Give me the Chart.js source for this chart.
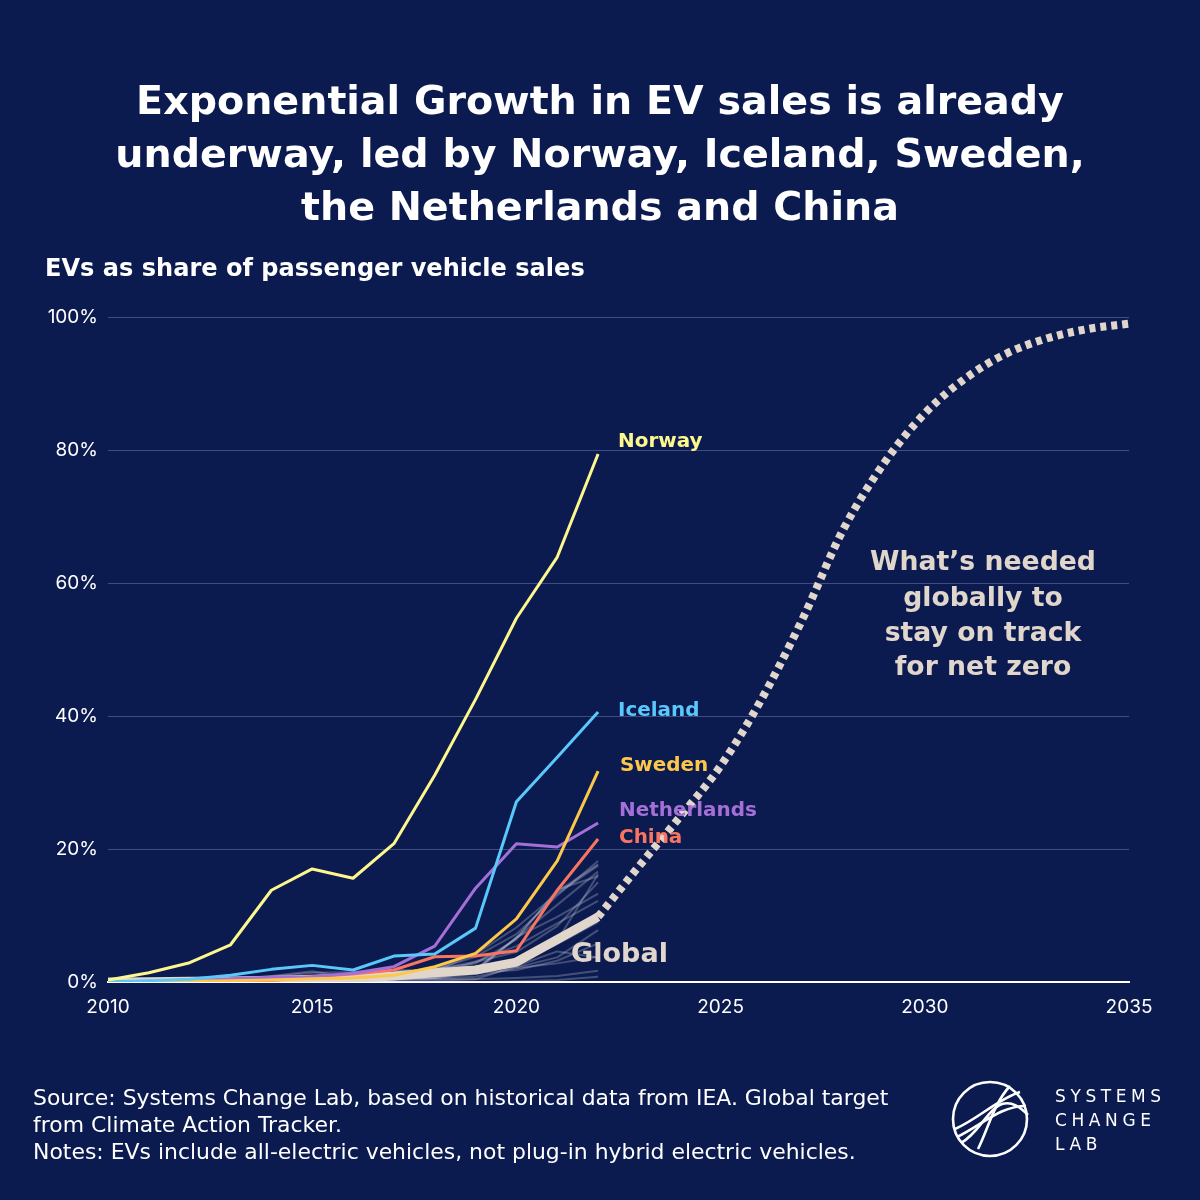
<!DOCTYPE html>
<html>
<head>
<meta charset="utf-8">
<script src="https://cdn.jsdelivr.net/npm/chart.js@4/dist/chart.umd.min.js"></script>
<style>
  html, body { margin:0; padding:0; background:#0c1b4f; }
  #wrap { position:relative; width:1200px; height:1200px; background:#0c1b4f; overflow:hidden; color:#fff; }
  canvas { position:absolute; left:0; top:0; }
  .t { position:absolute; white-space:nowrap; }
</style>
</head>
<body>
<div id="wrap">
  <canvas id="c" width="1200" height="1200"></canvas>
  <svg style="position:absolute; left:950px; top:1079px;" width="80" height="80" viewBox="0 0 80 80">
    <g fill="none" stroke="#fff" stroke-width="2.6">
      <circle cx="40" cy="40" r="37"/>
      <path d="M5 50 C 28 40, 48 20, 70 13"/>
      <path d="M7 58 C 32 46, 50 27, 76 27"/>
      <path d="M11 64 C 28 55, 38 30, 52 25 C 62 22, 70 28, 78 36"/>
      <path d="M28 70 C 38 50, 44 24, 60 7"/>
    </g>
  </svg>
</div>
<script>
// ---------- DATA ----------
const years = [2010,2011,2012,2013,2014,2015,2016,2017,2018,2019,2020,2021,2022];
const targetYears = [2022,2023,2024,2025,2026,2027,2028,2029,2030,2031,2032,2033,2034,2035];

const norway      = [0.3,1.4,2.9,5.6,13.8,17.0,15.6,20.8,31.1,42.5,54.7,63.9,79.4];
const iceland     = [0,0.2,0.4,1.0,1.9,2.5,1.8,3.9,4.2,8.1,27.1,33.8,40.6];
const sweden      = [0,0,0.1,0.2,0.3,0.5,0.6,1.0,2.3,4.3,9.5,18.2,31.7];
const netherlands = [0,0.1,0.2,0.5,0.7,0.8,1.3,2.3,5.4,14.1,20.8,20.3,23.9];
const china       = [0,0,0,0.1,0.2,0.8,1.2,1.8,3.8,3.9,4.7,13.8,21.5];
const global      = [0,0.05,0.1,0.15,0.25,0.4,0.55,0.9,1.4,1.8,3.0,6.4,9.8];
const target      = [9.8,17.4,24.8,32.5,42.5,54.5,68,78,85.5,90.8,94.5,96.8,98.2,99];

// other countries (grey background lines)
const germany     = [0,0,0.1,0.2,0.4,0.6,0.4,0.7,1.0,1.8,6.7,13.6,17.7];
const denmark     = [0,0.1,0.3,0.3,0.9,1.6,0.6,0.4,1.9,3.8,7.2,13.0,18.2];
const switzerland = [0,0,0.2,0.4,0.8,1.4,1.5,1.8,1.7,4.2,8.2,13.3,17.5];
const austria     = [0,0,0.1,0.2,0.4,0.5,1.2,1.5,2.0,2.8,6.4,13.9,15.9];
const uk          = [0,0,0,0.1,0.3,0.4,0.4,0.5,0.7,1.6,6.6,11.6,16.6];
const finland     = [0,0,0,0.1,0.2,0.2,0.2,0.5,0.6,1.2,2.6,6.2,16.2];
const ireland     = [0,0,0.1,0.1,0.2,0.4,0.3,0.5,1.1,3.0,4.5,8.4,15.0];
const france      = [0,0.1,0.3,0.5,0.6,0.9,1.1,1.2,1.4,1.9,6.7,9.8,13.3];
const portugal    = [0,0,0,0.1,0.1,0.3,0.4,0.7,1.8,3.1,5.4,8.8,12.2];
const belgium     = [0,0,0,0.1,0.3,0.3,0.3,0.5,0.6,1.5,3.4,5.9,10.5];
const korea       = [0,0,0,0,0.1,0.2,0.3,0.9,1.9,2.3,2.7,5.7,9.0];
const canada      = [0,0,0,0.1,0.2,0.2,0.3,0.5,1.4,2.3,2.2,3.7,7.8];
const usa         = [0,0.1,0.1,0.6,0.4,0.4,0.5,0.6,1.2,1.4,1.8,3.2,5.8];
const spain       = [0,0,0,0,0.1,0.1,0.2,0.3,0.5,0.8,2.1,2.8,3.8];
const italy       = [0,0,0,0,0,0.1,0.1,0.1,0.2,0.4,2.4,4.6,3.7];
const japan       = [0,0,0.3,0.3,0.4,0.3,0.3,0.5,0.4,0.4,0.6,0.9,1.7];
const india       = [0,0,0,0,0,0,0,0,0,0,0.1,0.3,0.8];
const others = [germany,denmark,switzerland,austria,uk,finland,ireland,france,portugal,belgium,korea,canada,usa,spain,italy,japan,india];

const yTicks = [0,20,40,60,80,100];
const xTicks = [2010,2015,2020,2025,2030,2035];

const titleLines = ['Exponential Growth in EV sales is already','underway, led by Norway, Iceland, Sweden,','the Netherlands and China'];
const subtitle = 'EVs as share of passenger vehicle sales';
const noteLines = ['What’s needed','globally to','stay on track','for net zero'];
const footLines = ['Source: Systems Change Lab, based on historical data from IEA. Global target','from Climate Action Tracker.','Notes: EVs include all-electric vehicles, not plug-in hybrid electric vehicles.'];
const logoLines = ['SYSTEMS','CHANGE','LAB'];

// ---------- TEXT ----------
const wrap = document.getElementById('wrap');
const mctx = document.createElement('canvas').getContext('2d');
const FAM = '"DejaVu Sans", Inter, sans-serif';
function fitSize(text, weight, targetW) {
  mctx.font = `${weight} 100px ${FAM}`;
  return 100 * targetW / mctx.measureText(text).width;
}
function place(text, o) {
  const d = document.createElement('div');
  d.className = 't';
  d.textContent = text;
  const size = o.size;
  d.style.font = `${o.weight} ${size}px ${FAM}`;
  d.style.lineHeight = (size * 1.2) + 'px';
  d.style.color = o.color || '#fff';
  if (o.ls) d.style.letterSpacing = o.ls + 'px';
  mctx.font = `${o.weight} ${size}px ${FAM}`;
  const w = mctx.measureText(text).width + (o.ls ? o.ls * text.length : 0);
  let left = o.x;
  if (o.align === 'center') left = o.x - w / 2;
  d.style.left = left + 'px';
  d.style.top = (o.y - size * 0.6 - size * 0.06) + 'px';
  wrap.appendChild(d);
}
// title
const tSize = fitSize(titleLines[0], 700, 928);
[103, 156, 209].forEach((y, i) => place(titleLines[i], {x: 600, y, align: 'center', size: tSize, weight: 700}));
place(subtitle, {x: 45, y: 270, size: fitSize(subtitle, 700, 540), weight: 700});
// series labels
const labs = [
  ['Norway', 618, 442, 86, '#fdf88e'],
  ['Iceland', 618, 711, 83, '#5ac8fa'],
  ['Sweden', 620, 766, 89, '#fdc84a'],
  ['Netherlands', 619, 811, 138, '#a46fd6'],
  ['China', 619, 838, 67, '#fa7560']
];
const labSize = fitSize('Netherlands', 700, 138);
labs.forEach(l => place(l[0], {x: l[1], y: l[2], size: labSize, weight: 700, color: l[4]}));
place('Global', {x: 571, y: 955, size: fitSize('Global', 700, 97), weight: 700, color: '#e0d6cc'});
const nSize = fitSize(noteLines[0], 700, 226);
[563, 599, 634, 668].forEach((y, i) => place(noteLines[i], {x: 983, y, align: 'center', size: nSize, weight: 700, color: '#e0d6cc'}));
const fSize = fitSize(footLines[0], 400, 856);
[1099, 1126, 1153].forEach((y, i) => place(footLines[i], {x: 33, y, size: fSize, weight: 400}));
[1097, 1121, 1145].forEach((y, i) => place(logoLines[i], {x: 1055, y, size: 17, weight: 400, ls: 4.6}));

// ---------- CHART ----------
const pts = (xs, ys) => xs.map((x,i) => ({x, y: ys[i]}));
const BEIGE = '#e0d6cc';

const datasets = [];
others.forEach(arr => datasets.push({
  data: pts(years, arr), borderColor: 'rgba(215,215,230,0.28)', borderWidth: 2, order: 10
}));
datasets.push({ data: pts(targetYears, target), borderColor: BEIGE, borderWidth: 8, borderDash: [6,5],
  borderCapStyle: 'butt', cubicInterpolationMode: 'monotone', order: 6 });
datasets.push({ data: pts(years, global), borderColor: BEIGE, borderWidth: 9, borderCapStyle: 'butt', order: 5 });
datasets.push({ data: pts(years, china), borderColor: '#fa7560', borderWidth: 3, order: 4 });
datasets.push({ data: pts(years, netherlands), borderColor: '#a46fd6', borderWidth: 3, order: 3 });
datasets.push({ data: pts(years, sweden), borderColor: '#fdc84a', borderWidth: 3, order: 2 });
datasets.push({ data: pts(years, iceland), borderColor: '#5ac8fa', borderWidth: 3, order: 1 });
datasets.push({ data: pts(years, norway), borderColor: '#fdf88e', borderWidth: 3, order: 0 });

new Chart(document.getElementById('c'), {
  type: 'line',
  data: { datasets },
  options: {
    responsive: false,
    devicePixelRatio: 1,
    animation: false,
    events: [],
    layout: { padding: { left: 0, top: 317, right: 71, bottom: 178 } },
    elements: { point: { radius: 0 }, line: { tension: 0, borderJoinStyle: 'round' } },
    plugins: { legend: { display: false }, tooltip: { enabled: false } },
    scales: {
      x: {
        type: 'linear', min: 2010, max: 2035,
        afterFit: s => { s.height = 40; },
        afterBuildTicks: s => { s.ticks = xTicks.map(v => ({value: v})); },
        grid: { display: false, drawTicks: false },
        border: { display: true, color: '#ffffff', width: 2 },
        ticks: { color: '#ffffff', padding: 14, font: { family: 'Inter', size: 19 }, callback: v => String(v) }
      },
      y: {
        type: 'linear', min: 0, max: 100,
        afterFit: s => { s.width = 108; },
        afterBuildTicks: s => { s.ticks = yTicks.map(v => ({value: v})); },
        grid: { color: 'rgba(160,175,215,0.35)', lineWidth: 1, drawTicks: false },
        border: { display: false },
        ticks: { color: '#ffffff', padding: 10, font: { family: 'Inter', size: 19 }, callback: v => v + '%' }
      }
    }
  }
});
</script>
</body>
</html>
